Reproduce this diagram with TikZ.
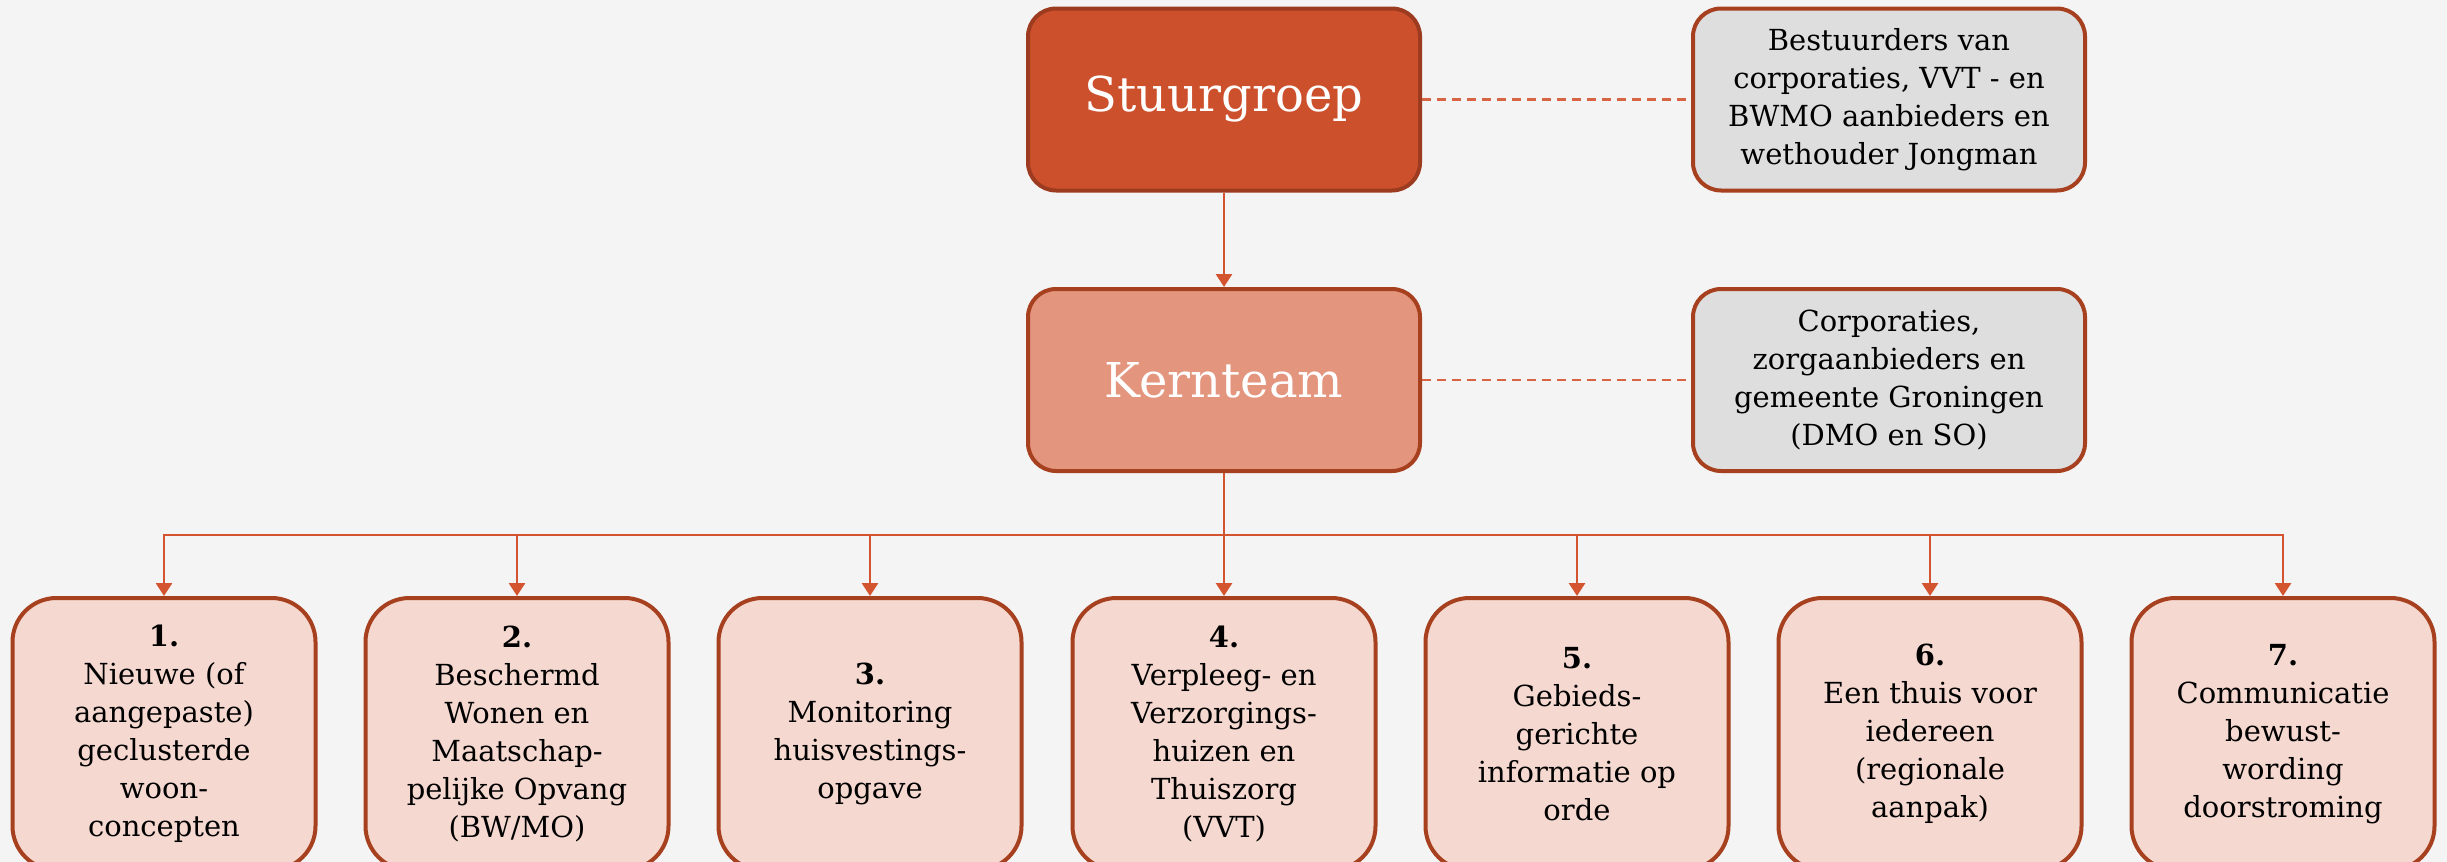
\documentclass[tikz,border=0pt]{standalone}
\usepackage{fontspec}
\setmainfont{DejaVu Serif}
\usetikzlibrary{arrows.meta}
\definecolor{bgc}{HTML}{F4F4F4}
\definecolor{sgfill}{HTML}{CD502C}
\definecolor{sgdraw}{HTML}{9C3B1F}
\definecolor{ktfill}{HTML}{E3957E}
\definecolor{boxdraw}{HTML}{A6401F}
\definecolor{greyfill}{HTML}{DEDEDE}
\definecolor{taskfill}{HTML}{F5D8CF}
\definecolor{conncol}{HTML}{D3542E}
\begin{document}
\begin{tikzpicture}[x=0.5pt,y=-0.5pt,
  topbox/.style={draw=boxdraw, line width=2pt, rounded corners=14pt,
    minimum width=196pt, minimum height=91pt, align=center, inner sep=2pt},
  stuur/.style={topbox, draw=sgdraw, fill=sgfill, text=white, font=\fontsize{24}{28}\selectfont},
  kern/.style={topbox, fill=ktfill, text=white, font=\fontsize{24}{28}\selectfont},
  greybox/.style={topbox, fill=greyfill, text=black, font=\fontsize{14.5}{19}\selectfont},
  taskbox/.style={draw=boxdraw, line width=2pt, rounded corners=22pt, fill=taskfill,
    minimum width=151.5pt, minimum height=136pt, align=center, inner sep=2pt,
    font=\fontsize{14.5}{19}\selectfont},
  conn/.style={draw=conncol, line width=1.4pt, -{Triangle[length=6.5pt,width=8pt]}},
  dashline/.style={draw=conncol!90!white, line width=1.4pt, dash pattern=on 4.5pt off 3pt}
]
\fill[bgc] (0,0) rectangle (2447,862);
\useasboundingbox (0,0) rectangle (2447,862);
\clip (0,0) rectangle (2447,862);

\node[stuur] (sg) at (1224,99.5) {Stuurgroep};
\node[greybox] (bs) at (1889,99.5) {Bestuurders van\\corporaties, VVT - en\\BWMO aanbieders en\\wethouder Jongman};
\node[kern] (kt) at (1224,380) {Kernteam};
\node[greybox] (cp) at (1889,380) {Corporaties,\\zorgaanbieders en\\gemeente Groningen\\(DMO en SO)};

\node[taskbox] (t1) at (164,734) {\textbf{1.}\\Nieuwe (of\\aangepaste)\\geclusterde\\woon-\\concepten};
\node[taskbox] (t2) at (517,734) {\textbf{2.}\\Beschermd\\Wonen en\\Maatschap-\\pelijke Opvang\\(BW/MO)};
\node[taskbox] (t3) at (870,734) {\textbf{3.}\\Monitoring\\huisvestings-\\opgave};
\node[taskbox] (t4) at (1224,734) {\textbf{4.}\\Verpleeg- en\\Verzorgings-\\huizen en\\Thuiszorg\\(VVT)};
\node[taskbox] (t5) at (1577,734) {\textbf{5.}\\Gebieds-\\gerichte\\informatie op\\orde};
\node[taskbox] (t6) at (1930,734) {\textbf{6.}\\Een thuis voor\\iedereen\\(regionale\\aanpak)};
\node[taskbox] (t7) at (2283,734) {\textbf{7.}\\Communicatie\\bewust-\\wording\\doorstroming};

\coordinate (bus) at (1224,535);

\draw[dashline] (sg.east) -- (bs.west);
\draw[dashline] (kt.east) -- (cp.west);
\draw[conn] (sg) -- (kt);
\foreach \t in {t1,t2,t3,t5,t6,t7}{
  \draw[conn] (kt.south) -- (kt.south |- bus) -| (\t.north);
}
\draw[conn] (kt) -- (t4);
\end{tikzpicture}
\end{document}
